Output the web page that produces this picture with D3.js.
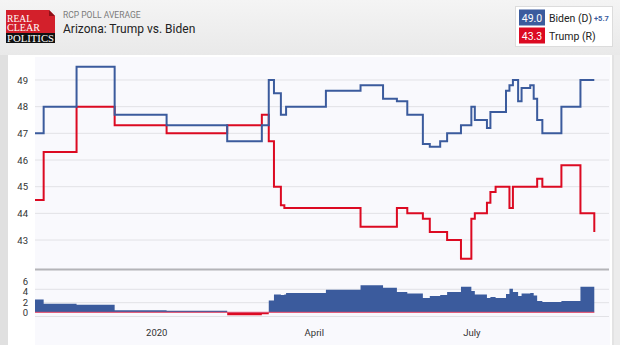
<!DOCTYPE html>
<html>
<head>
<meta charset="utf-8">
<script src="https://cdn.jsdelivr.net/npm/d3@7"></script>
<style>
  body { margin: 0; background: #e2e2e2; }
  svg { display: block; font-family: Roboto, "Open Sans", sans-serif; }
</style>
</head>
<body>
<svg width="620" height="345"></svg>
<script>
// promedio RCP Arizona: cada fecha es un cambio de valor (escalones)
var bidenDates = ["2019-10-23", "2019-10-28", "2019-11-16", "2019-12-08", "2020-01-07", "2020-02-11",
  "2020-03-02", "2020-03-06", "2020-03-09", "2020-03-13", "2020-03-16", "2020-04-08", "2020-04-28",
  "2020-05-11", "2020-05-19", "2020-05-25", "2020-06-03", "2020-06-07", "2020-06-13", "2020-06-17",
  "2020-06-25", "2020-07-01", "2020-07-03", "2020-07-10", "2020-07-12", "2020-07-21", "2020-07-23",
  "2020-07-25", "2020-07-28", "2020-07-30", "2020-08-04", "2020-08-06", "2020-08-08", "2020-08-11",
  "2020-08-22", "2020-09-02", "2020-09-10"];
var bidenValues = [47.0, 48.0, 49.5, 47.7, 47.3, 46.7,
  47.3, 49.0, 48.5, 47.7, 48.0, 48.6, 48.8,
  48.3, 48.2, 47.7, 46.6, 46.5, 46.7, 47.0,
  47.3, 48.0, 47.5, 47.2, 47.8, 48.6, 48.8,
  49.0, 48.2, 48.7, 48.8, 48.3, 47.5, 47.0,
  48.0, 49.0, 49.0];

var trumpDates = ["2019-10-23", "2019-10-28", "2019-11-16", "2019-12-08", "2020-01-07", "2020-02-11",
  "2020-03-02", "2020-03-06", "2020-03-09", "2020-03-13", "2020-03-15", "2020-04-28", "2020-05-19",
  "2020-05-25", "2020-06-03", "2020-06-07", "2020-06-17", "2020-06-25", "2020-07-01", "2020-07-03",
  "2020-07-10", "2020-07-12", "2020-07-15", "2020-07-23", "2020-07-25", "2020-08-08", "2020-08-11",
  "2020-08-22", "2020-09-02", "2020-09-10"];
var trumpValues = [44.5, 46.3, 48.0, 47.3, 47.0, 47.3,
  47.7, 46.7, 45.0, 44.3, 44.2, 43.5, 44.2,
  44.0, 43.8, 43.3, 43.0, 42.3, 43.8, 44.0,
  44.4, 44.8, 45.0, 44.2, 45.0, 45.3, 45.0,
  45.8, 44.0, 43.3];

var yTicks = [43, 44, 45, 46, 47, 48, 49];
var spreadTicks = [0, 2, 4, 6];
var xTickDates = ["2020-01-01", "2020-04-01", "2020-07-01"];
var xTickLabels = ["2020", "April", "July"];

var azul = "#3b5b9d", rojo = "#dc0a22";
var parse = d3.timeParse("%Y-%m-%d");

var biden = bidenDates.map(function(d, i) { return { fecha: parse(d), valor: bidenValues[i] }; });
var trump = trumpDates.map(function(d, i) { return { fecha: parse(d), valor: trumpValues[i] }; });

// valor vigente de una serie escalonada en una fecha
function valorEn(serie, fecha) {
  var i = d3.bisector(function(d) { return d.fecha; }).right(serie, fecha) - 1;
  return serie[Math.max(i, 0)].valor;
}

// ventaja Biden - Trump en todas las fechas de cambio
var fechas = Array.from(new Set(bidenDates.concat(trumpDates))).sort().map(parse);
var ventaja = fechas.map(function(f) {
  return { fecha: f, valor: +(valorEn(biden, f) - valorEn(trump, f)).toFixed(1) };
});

var svg = d3.select("svg");

// cabecera gris
var defs = svg.append("defs");
var grad = defs.append("linearGradient").attr("id", "cabecera").attr("x1", 0).attr("y1", 0).attr("x2", 0).attr("y2", 1);
grad.append("stop").attr("offset", "0%").attr("stop-color", "#f4f4f4");
grad.append("stop").attr("offset", "100%").attr("stop-color", "#e9e9e9");
svg.append("rect").attr("x", 0).attr("y", 0).attr("width", 620).attr("height", 55).attr("fill", "url(#cabecera)");
svg.append("rect").attr("x", 0).attr("y", 55).attr("width", 8).attr("height", 290).attr("fill", "#e0e0e0");
svg.append("rect").attr("x", 612).attr("y", 55).attr("width", 8).attr("height", 290).attr("fill", "#e3e3e3");
svg.append("rect").attr("x", 614).attr("y", 55).attr("width", 6).attr("height", 290).attr("fill", "#ececec");

// panel blanco y fondo del grafico
svg.append("rect").attr("x", 8).attr("y", 55).attr("width", 604).attr("height", 290).attr("fill", "#ffffff");
svg.append("rect").attr("x", 35).attr("y", 57).attr("width", 575).attr("height", 288).attr("fill", "#f9f9fd");

// logo RCP
var logo = svg.append("g");
logo.append("rect").attr("x", 6).attr("y", 10).attr("width", 49).attr("height", 24).attr("fill", "#d3202b");
logo.append("rect").attr("x", 6).attr("y", 33).attr("width", 49).attr("height", 10).attr("fill", "#111");
logo.append("polygon").attr("points", "49,10 55,10 55,16").attr("fill", "#efefef");
logo.append("polygon").attr("points", "49,10 55,16 49,16").attr("fill", "#8e1018");
logo.selectAll("text")
  .data([["REAL", 21.5, 25], ["CLEAR", 31, 33], ["POLITICS", 41.8, 47]])
  .enter()
  .append("text")
  .text(function(d) { return d[0]; })
  .attr("x", 7)
  .attr("y", function(d) { return d[1]; })
  .attr("textLength", function(d) { return d[2]; })
  .attr("lengthAdjust", "spacingAndGlyphs")
  .attr("font-family", "'Liberation Serif', 'DejaVu Serif', serif")
  .attr("font-size", 10.5)
  .attr("fill", "#fff");

// titulo
svg.append("text").text("RCP POLL AVERAGE").attr("x", 63).attr("y", 17.5)
  .attr("font-size", 8.5).attr("fill", "#7a7a7a");
svg.append("text").text("Arizona: Trump vs. Biden").attr("x", 63).attr("y", 33)
  .attr("font-size", 12).attr("fill", "#222");

// escalas
var x = d3.scaleTime().domain([parse("2019-10-23"), parse("2020-09-10")]).range([35, 594.3]);
var y = d3.scaleLinear().domain([42, 50]).range([266.7, 53.3]);
var ys = d3.scaleLinear().domain([0, 6]).range([312.3, 281.7]);

// lineas de la rejilla
svg.append("g").selectAll("line")
  .data(yTicks)
  .enter()
  .append("line")
  .attr("x1", 35).attr("x2", 609)
  .attr("y1", function(d) { return y(d); })
  .attr("y2", function(d) { return y(d); })
  .attr("stroke", "#e2e2e6");

svg.append("g")
  .attr("transform", "translate(35,0)")
  .call(d3.axisLeft(y).tickValues(yTicks).tickSize(0).tickPadding(7).tickFormat(d3.format("d")))
  .call(function(g) { g.select(".domain").remove(); })
  .selectAll("text").attr("font-size", 9.5).attr("fill", "#333").attr("font-family", "Roboto, sans-serif");

// lineas de Biden y Trump
var linea = d3.line()
  .x(function(d) { return x(d.fecha); })
  .y(function(d) { return y(d.valor); })
  .curve(d3.curveStepAfter);

svg.append("path").datum(trump).attr("d", linea)
  .attr("fill", "none").attr("stroke", rojo).attr("stroke-width", 2);
svg.append("path").datum(biden).attr("d", linea)
  .attr("fill", "none").attr("stroke", azul).attr("stroke-width", 2);

// separador entre graficos
svg.append("line").attr("x1", 35).attr("x2", 609).attr("y1", 269.5).attr("y2", 269.5)
  .attr("stroke", "#b4b4b8").attr("stroke-width", 2);

// grafico de ventaja
svg.append("g").selectAll("line")
  .data([289.3, 302.7, 316.5])
  .enter()
  .append("line")
  .attr("x1", 35).attr("x2", 609)
  .attr("y1", function(d) { return d; })
  .attr("y2", function(d) { return d; })
  .attr("stroke", "#e2e2e6");

svg.append("g")
  .attr("transform", "translate(35,0)")
  .call(d3.axisLeft(ys).tickValues(spreadTicks).tickSize(0).tickPadding(7).tickFormat(d3.format("d")))
  .call(function(g) { g.select(".domain").remove(); })
  .selectAll("text").attr("font-size", 9.5).attr("fill", "#333").attr("font-family", "Roboto, sans-serif");

defs.append("clipPath").attr("id", "positivo")
  .append("rect").attr("x", 0).attr("y", 0).attr("width", 620).attr("height", ys(0));
defs.append("clipPath").attr("id", "negativo")
  .append("rect").attr("x", 0).attr("y", ys(0)).attr("width", 620).attr("height", 345 - ys(0));

var area = d3.area()
  .x(function(d) { return x(d.fecha); })
  .y0(ys(0))
  .y1(function(d) { return ys(d.valor); })
  .curve(d3.curveStepAfter);

svg.append("path").datum(ventaja).attr("d", area).attr("fill", azul).attr("clip-path", "url(#positivo)");
svg.append("path").datum(ventaja).attr("d", area).attr("fill", rojo).attr("clip-path", "url(#negativo)");
svg.append("line")
  .attr("x1", x(fechas[0])).attr("x2", x(fechas[fechas.length - 1]))
  .attr("y1", ys(0)).attr("y2", ys(0))
  .attr("stroke", "#e0486a").attr("stroke-width", 1);

// eje x
svg.append("g")
  .attr("transform", "translate(0,326)")
  .call(d3.axisBottom(x).tickValues(xTickDates.map(parse)).tickSize(0).tickPadding(3)
    .tickFormat(function(d, i) { return xTickLabels[i]; }))
  .call(function(g) { g.select(".domain").remove(); })
  .selectAll("text").attr("font-size", 9.5).attr("fill", "#333").attr("font-family", "Roboto, sans-serif");

// leyenda con los ultimos valores
var ultB = bidenValues[bidenValues.length - 1];
var ultT = trumpValues[trumpValues.length - 1];
var ley = svg.append("g");
ley.append("rect").attr("x", 515.5).attr("y", 6.5).attr("width", 97).attr("height", 40)
  .attr("fill", "#fff").attr("stroke", "#dcdcdc");
var filas = [
  { valor: ultB, nombre: "Biden (D)", color: azul, y: 9.5 },
  { valor: ultT, nombre: "Trump (R)", color: rojo, y: 27.5 }
];
filas.forEach(function(f) {
  ley.append("rect").attr("x", 519).attr("y", f.y).attr("width", 26).attr("height", 16).attr("fill", f.color);
  ley.append("text").text(f.valor.toFixed(1)).attr("x", 532).attr("y", f.y + 12)
    .attr("text-anchor", "middle").attr("font-size", 10.5).attr("fill", "#fff");
  ley.append("text").text(f.nombre).attr("x", 549).attr("y", f.y + 12)
    .attr("font-size", 10.5).attr("fill", "#222");
});
ley.append("text").text("+" + (ultB - ultT).toFixed(1)).attr("x", 594).attr("y", 21)
  .attr("font-size", 7.5).attr("font-weight", "bold").attr("fill", azul);
</script>
</body>
</html>
